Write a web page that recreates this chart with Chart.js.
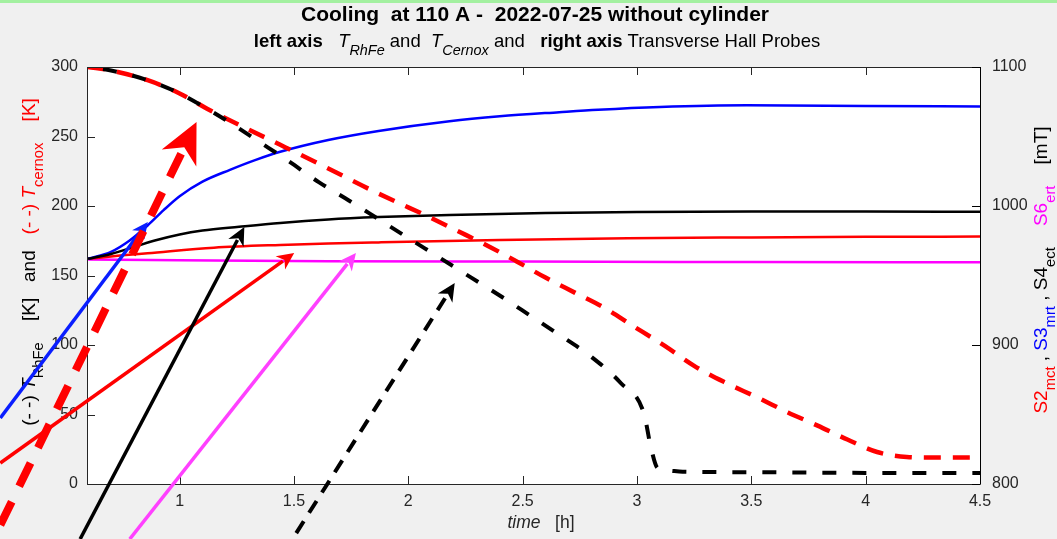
<!DOCTYPE html>
<html>
<head>
<meta charset="utf-8">
<title>Cooling at 110 A</title>
<script src="https://cdn.jsdelivr.net/npm/chart.js@4/dist/chart.umd.min.js"></script>
<style>
  html, body { margin: 0; padding: 0; background: #f0f0f0; }
  #wrap { position: relative; width: 1057px; height: 539px; overflow: hidden; }
  #topbar { position: absolute; left: 0; top: 0; width: 1057px; height: 3px; background: #a3f0a0; }
</style>
</head>
<body>
<div id="wrap">
  <canvas id="chart-cooling" width="1057" height="539"></canvas>
  <div id="topbar"></div>
</div>
<script>
// tick labels
const xTicks = [1, 1.5, 2, 2.5, 3, 3.5, 4, 4.5];
const leftTicks = [0, 50, 100, 150, 200, 250, 300];
const rightTicks = [800, 900, 1000, 1100];

// left axis [K] : temperatures (dashed)
const tCernox = [0.6, 0.7, 0.86, 1.0, 1.12, 1.29, 1.44, 1.65, 1.8, 1.94, 2.08, 2.21, 2.34, 2.47, 2.6, 2.73, 2.86, 2.97, 3.12, 3.25, 3.38, 3.53, 3.66, 3.79, 3.92, 4.05, 4.18, 4.3, 4.5];
const kCernox = [300, 297.5, 290.5, 281, 270, 256, 244, 227, 214.5, 203.5, 193, 182.5, 172, 160.5, 148.5, 137.5, 126.5, 115, 99.5, 85, 73.5, 62, 51.5, 42, 32, 23, 19.5, 19, 19];

const tRhFe = [0.6, 0.7, 0.86, 1.0, 1.12, 1.22, 1.35, 1.47, 1.61, 1.74, 1.87, 2.0, 2.14, 2.27, 2.41, 2.53, 2.64, 2.8, 2.93, 3.03, 3.06, 3.09, 3.14, 3.2, 3.5, 4.0, 4.5];
const kRhFe = [300, 297.5, 290.5, 281, 270, 260, 246, 233, 217, 204, 190.5, 177, 162.5, 149, 134.5, 121.5, 109.5, 91.5, 72.5, 51, 27, 11.5, 9.6, 8.9, 8.5, 8, 8];

// right axis [mT] : Hall probes (solid)
const tS2 = [0.6, 0.75, 0.86, 1.15, 1.44, 1.65, 1.87, 2.4, 2.96, 3.5, 4.0, 4.5];
const mtS2 = [962, 964.5, 966, 970, 972, 973, 973.8, 975.5, 976.8, 977.4, 977.8, 978];

const tS3 = [0.6, 0.7, 0.78, 0.86, 0.93, 1.0, 1.1, 1.22, 1.33, 1.44, 1.65, 1.87, 2.18, 2.4, 2.66, 2.83, 3.1, 3.48, 4.0, 4.5];
const mtS3 = [962, 967, 975, 986, 997, 1007, 1017.5, 1026, 1033, 1039, 1047.5, 1054, 1061, 1064.5, 1067.5, 1069.3, 1071.3, 1072.5, 1072, 1071.5];

const tS4 = [0.6, 0.7, 0.8, 0.9, 1.0, 1.1, 1.26, 1.44, 1.65, 1.87, 2.18, 2.6, 3.0, 3.5, 4.0, 4.5];
const mtS4 = [962, 965.5, 970.5, 975.5, 979.5, 982.3, 985, 987.8, 990.3, 992, 993.6, 995, 995.7, 996, 996, 995.8];

const tS6 = [0.6, 1.0, 1.65, 2.5, 3.5, 4.5];
const mtS6 = [961.5, 961, 960.3, 960, 959.7, 959.5];

// annotation arrows, tail -> head, in (time [h], left axis [K])
const arrowNames = ['S3', 'Tcernox', 'S2', 'S4', 'S6', 'TRhFe'];
const arrowTailT = [0.216, 0.216, 0.216, 0.565, 0.782, 1.51];
const arrowTailK = [47.5, -29.5, 15.1, -39.6, -39.6, -35.3];
const arrowHeadT = [0.861, 1.074, 1.501, 1.283, 1.771, 2.203];
const arrowHeadK = [188.5, 260.4, 166.2, 184.9, 166.2, 144.6];

const FONT = '"Liberation Sans", Arial, Helvetica, sans-serif';
const AXIS_COLOR = '#262626';

function pts(t, v) {
  return t.map((x, i) => ({ x: x, y: v[i] }));
}

const arrowStyle = {
  S3:      { color: '#0a1eff', width: 3.5, dash: [], head: 16 },
  Tcernox: { color: '#ff0000', width: 8, dash: [26, 17], head: 40 },
  S2:      { color: '#ff0000', width: 3.5, dash: [], head: 17 },
  S4:      { color: '#000000', width: 3.5, dash: [], head: 18 },
  S6:      { color: '#ff40ff', width: 3.5, dash: [], head: 17 },
  TRhFe:   { color: '#000000', width: 4, dash: [14, 10], head: 18 }
};

function drawRich(ctx, segs, x, y, size) {
  const parts = segs.map(s => {
    const sz = s.sub ? size * 0.78 : size;
    const font = (s.italic ? 'italic ' : '') + (s.bold ? 'bold ' : '') + sz + 'px ' + FONT;
    ctx.font = font;
    return { s: s, font: font, w: ctx.measureText(s.text).width };
  });
  const total = parts.reduce((a, p) => a + p.w, 0);
  let cx = x - total / 2;
  ctx.textAlign = 'left';
  ctx.textBaseline = 'middle';
  for (const p of parts) {
    ctx.font = p.font;
    ctx.fillStyle = p.s.color || '#000';
    ctx.fillText(p.s.text, cx, y + (p.s.sub ? size * 0.48 : 0));
    cx += p.w;
  }
}

function drawArrow(ctx, x0, y0, x1, y1, st) {
  const ang = Math.atan2(y1 - y0, x1 - x0);
  const L = st.head, W = st.head * 0.48, notch = st.head * 0.3;
  const bx = x1 - Math.cos(ang) * (L - notch * 0.6);
  const by = y1 - Math.sin(ang) * (L - notch * 0.6);
  ctx.save();
  ctx.strokeStyle = st.color;
  ctx.lineWidth = st.width;
  ctx.setLineDash(st.dash);
  ctx.beginPath();
  ctx.moveTo(x0, y0);
  ctx.lineTo(bx, by);
  ctx.stroke();
  ctx.setLineDash([]);
  // MATLAB style "vback2" head
  const cos = Math.cos(ang), sin = Math.sin(ang);
  const back = (d, o) => [x1 - cos * d - sin * o, y1 - sin * d + cos * o];
  const w1 = back(L, W), w2 = back(L, -W), n = back(L - notch, 0);
  ctx.fillStyle = st.color;
  ctx.beginPath();
  ctx.moveTo(x1, y1);
  ctx.lineTo(w1[0], w1[1]);
  ctx.lineTo(n[0], n[1]);
  ctx.lineTo(w2[0], w2[1]);
  ctx.closePath();
  ctx.fill();
  ctx.restore();
}

const matlabLook = {
  id: 'matlabLook',
  beforeDraw(chart) {
    const { ctx, chartArea: a } = chart;
    ctx.save();
    ctx.fillStyle = '#f0f0f0';
    ctx.fillRect(0, 0, chart.width, chart.height);
    ctx.fillStyle = '#ffffff';
    ctx.fillRect(a.left, a.top, a.right - a.left, a.bottom - a.top);
    ctx.restore();
  },
  afterDatasetsDraw(chart) {
    const { ctx, chartArea: a, scales } = chart;
    const tl = 8;
    ctx.save();
    ctx.lineWidth = 1;
    ctx.strokeStyle = AXIS_COLOR;
    ctx.beginPath();
    for (const v of xTicks) {
      const px = Math.round(scales.x.getPixelForValue(v)) + 0.5;
      ctx.moveTo(px, a.bottom); ctx.lineTo(px, a.bottom - tl);
      ctx.moveTo(px, a.top); ctx.lineTo(px, a.top + tl);
    }
    for (const v of leftTicks) {
      const py = Math.round(scales.y.getPixelForValue(v)) + 0.5;
      ctx.moveTo(a.left, py); ctx.lineTo(a.left + tl, py);
    }
    ctx.rect(Math.round(a.left) + 0.5, Math.round(a.top) + 0.5, Math.round(a.right - a.left), Math.round(a.bottom - a.top));
    ctx.stroke();
    ctx.strokeStyle = '#000';
    ctx.beginPath();
    for (const v of rightTicks) {
      const py = Math.round(scales.y1.getPixelForValue(v)) + 0.5;
      ctx.moveTo(a.right, py); ctx.lineTo(a.right - tl, py);
    }
    ctx.moveTo(Math.round(a.right) + 0.5, a.top);
    ctx.lineTo(Math.round(a.right) + 0.5, a.bottom);
    ctx.stroke();
    ctx.restore();
  },
  afterDraw(chart) {
    const { ctx, scales } = chart;
    ctx.save();
    // titles
    drawRich(ctx, [{ text: 'Cooling  at 110 A -  2022-07-25 without cylinder', bold: true }], 535, 15, 21);
    drawRich(ctx, [
      { text: 'left axis', bold: true },
      { text: '   ' },
      { text: 'T', italic: true },
      { text: 'RhFe', italic: true, sub: true },
      { text: ' and  ' },
      { text: 'T', italic: true },
      { text: 'Cernox', italic: true, sub: true },
      { text: ' and   ' },
      { text: 'right axis', bold: true },
      { text: ' Transverse Hall Probes' }
    ], 537, 42, 18.5);
    // x axis title
    drawRich(ctx, [
      { text: 'time', italic: true, color: AXIS_COLOR },
      { text: '   [h]', color: AXIS_COLOR }
    ], 541, 523, 17.5);
    // left axis title
    ctx.save();
    ctx.translate(30, 262);
    ctx.rotate(-Math.PI / 2);
    drawRich(ctx, [
      { text: '(- -) ' },
      { text: 'T', italic: true },
      { text: 'RhFe', sub: true },
      { text: '    [K]   and   ' },
      { text: '(- -) ', color: '#ff0000' },
      { text: 'T', italic: true, color: '#ff0000' },
      { text: 'cernox', sub: true, color: '#ff0000' },
      { text: '    [K]', color: '#ff0000' }
    ], 0, 0, 19);
    ctx.restore();
    // right axis title
    ctx.save();
    ctx.translate(1042, 270);
    ctx.rotate(-Math.PI / 2);
    drawRich(ctx, [
      { text: 'S2', color: '#ff0000' },
      { text: 'mct', sub: true, color: '#ff0000' },
      { text: ' , ' },
      { text: 'S3', color: '#0000ff' },
      { text: 'mrt', sub: true, color: '#0000ff' },
      { text: ' , ' },
      { text: 'S4', color: '#000' },
      { text: 'ect', sub: true, color: '#000' },
      { text: '    ' },
      { text: 'S6', color: '#ff00ff' },
      { text: 'ert', sub: true, color: '#ff00ff' },
      { text: '    [mT]' }
    ], 0, 0, 19);
    ctx.restore();
    // arrows
    arrowNames.forEach((name, i) => {
      drawArrow(ctx,
        scales.x.getPixelForValue(arrowTailT[i]), scales.y.getPixelForValue(arrowTailK[i]),
        scales.x.getPixelForValue(arrowHeadT[i]), scales.y.getPixelForValue(arrowHeadK[i]),
        arrowStyle[name]);
    });
    ctx.restore();
  }
};

const lineBase = {
  pointRadius: 0,
  fill: false,
  cubicInterpolationMode: 'monotone',
  borderCapStyle: 'butt'
};

const dataCooling = {
  datasets: [
    Object.assign({}, lineBase, {
      label: 'T RhFe', yAxisID: 'y', data: pts(tRhFe, kRhFe),
      borderColor: '#000000', borderWidth: 4, borderDash: [14, 16], borderDashOffset: 15
    }),
    Object.assign({}, lineBase, {
      label: 'T cernox', yAxisID: 'y', data: pts(tCernox, kCernox),
      borderColor: '#ff0000', borderWidth: 4.5, borderDash: [17, 12]
    }),
    Object.assign({}, lineBase, {
      label: 'S4 ect', yAxisID: 'y1', data: pts(tS4, mtS4),
      borderColor: '#000000', borderWidth: 2.5
    }),
    Object.assign({}, lineBase, {
      label: 'S3 mrt', yAxisID: 'y1', data: pts(tS3, mtS3),
      borderColor: '#0000ff', borderWidth: 2.5
    }),
    Object.assign({}, lineBase, {
      label: 'S2 mct', yAxisID: 'y1', data: pts(tS2, mtS2),
      borderColor: '#ff0000', borderWidth: 2.5
    }),
    Object.assign({}, lineBase, {
      label: 'S6 ert', yAxisID: 'y1', data: pts(tS6, mtS6),
      borderColor: '#ff00ff', borderWidth: 2.5
    })
  ]
};

const tickFont = { family: FONT, size: 16 };

const configCooling = {
  type: 'line',
  data: dataCooling,
  options: {
    responsive: false,
    animation: false,
    devicePixelRatio: 1,
    layout: { padding: { top: 67, left: 0, right: 0, bottom: 0 } },
    plugins: {
      legend: { display: false },
      tooltip: { enabled: false },
      title: { display: false }
    },
    scales: {
      x: {
        type: 'linear',
        min: 0.595,
        max: 4.5,
        grid: { display: false, drawTicks: false },
        border: { display: false },
        ticks: { color: AXIS_COLOR, font: tickFont, padding: 8, maxRotation: 0, callback: v => String(v) },
        afterBuildTicks: s => { s.ticks = xTicks.map(v => ({ value: v })); },
        afterFit: s => { s.height = 55; }
      },
      y: {
        position: 'left',
        min: 0,
        max: 300,
        grid: { display: false, drawTicks: false },
        border: { display: false },
        ticks: { color: AXIS_COLOR, font: tickFont, padding: 9, callback: v => String(v) },
        afterBuildTicks: s => { s.ticks = leftTicks.map(v => ({ value: v })); },
        afterFit: s => { s.width = 87; }
      },
      y1: {
        position: 'right',
        min: 800,
        max: 1100,
        grid: { display: false, drawTicks: false },
        border: { display: false },
        ticks: { color: AXIS_COLOR, font: tickFont, padding: 12, callback: v => String(v) },
        afterBuildTicks: s => { s.ticks = rightTicks.map(v => ({ value: v })); },
        afterFit: s => { s.width = 77; }
      }
    }
  },
  plugins: [matlabLook]
};

const chartCooling = new Chart(
  document.getElementById('chart-cooling'),
  configCooling
);
</script>
</body>
</html>
